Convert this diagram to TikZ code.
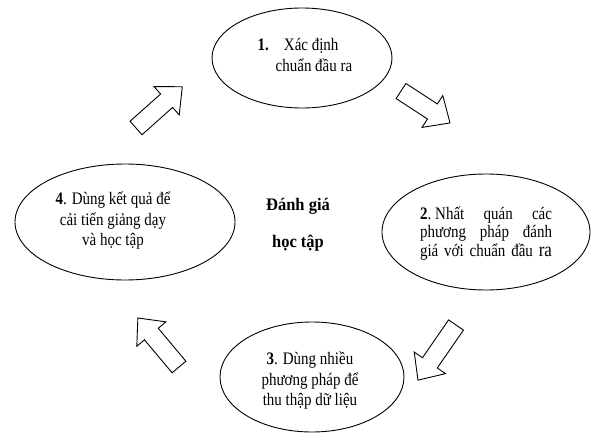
\documentclass[tikz,border=0pt]{standalone}
\usepackage{fontspec}
\usepackage{graphicx}
\setmainfont{Liberation Serif}
\usetikzlibrary{shapes.geometric}
\newcommand\tallbox[2][c]{\scalebox{1}[1.17]{\renewcommand\arraystretch{1}\begin{tabular}{@{}#1@{}}#2\end{tabular}}}
\begin{document}
\begin{tikzpicture}[x=1pt,y=1pt,
  oval/.style={draw, ellipse, line width=0.9pt, inner sep=0pt},
  txt/.style={font=\fontsize{15}{17.5}\selectfont, inner sep=0pt},
  ctr/.style={font=\fontsize{16.5}{18}\selectfont\bfseries, inner sep=0pt},
  blockarrow/.style={draw, line width=0.9pt, line join=miter}]
\useasboundingbox (0,0) rectangle (594,432);
% ellipses
\node[oval, minimum width=180, minimum height=100] (e1) at (302,374) {};
\node[oval, minimum width=208, minimum height=116] (e2) at (486,200) {};
\node[oval, minimum width=184, minimum height=110] (e3) at (312,55) {};
\node[oval, minimum width=220, minimum height=116] (e4) at (125,210) {};
% texts
\node[txt] (t1) at (305,375) {\tallbox[l]{\textbf{1.}\quad Xác định\\\hspace*{18pt}chuẩn đầu ra}};
\node[txt, font=\fontsize{15}{16}\selectfont] (t2) at (486,198) {\tallbox[l]{%
  \makebox[132pt][s]{\textbf{2}.\hspace{4pt}Nhất quán các}\\
  \makebox[132pt][s]{phương pháp đánh}\\
  \makebox[132pt][s]{giá với chuẩn đầu \fontsize{17}{16}\selectfont ra}}};
\node[txt] (t3) at (310,51) {\tallbox{\textbf{3}. Dùng nhiều\\phương pháp để\\thu thập dữ liệu}};
\node[txt] (t4) at (113,211) {\tallbox{\textbf{4}. Dùng kết quả để\\cải tiến giảng dạy\\và học tập}};
\node[ctr] (c1) at (298,226) {\scalebox{1}[1.07]{Đánh giá}};
\node[ctr] (c2) at (298,189) {\scalebox{1}[1.07]{học tập}};
% block arrows
\foreach \px/\py/\ang/\len in {136/304/41.7/62, 401/341/-33.1/58.5, 456/107/235.4/67, 179/65/130/64}{
  \draw[blockarrow, shift={(\px,\py)}, rotate=\ang]
    (0,-9) -- ({\len-21},-9) -- ({\len-21},-19) -- (\len,0) -- ({\len-21},19) -- ({\len-21},9) -- (0,9) -- cycle;
}
\end{tikzpicture}
\end{document}
